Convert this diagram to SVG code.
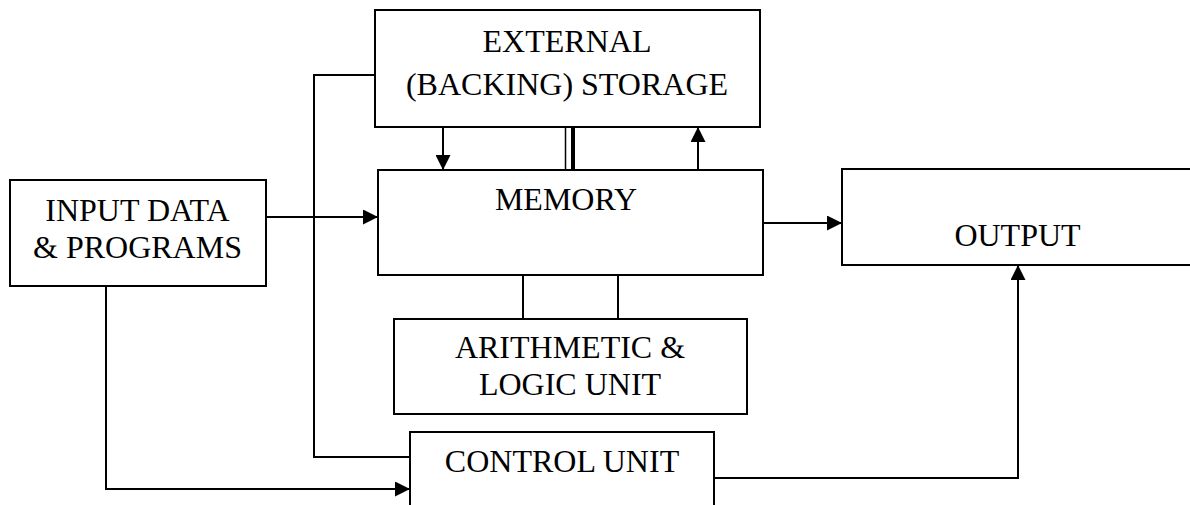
<svg xmlns="http://www.w3.org/2000/svg" width="1190" height="505" viewBox="0 0 1190 505">
<style>
.box{fill:#fff;stroke:#000;stroke-width:2}
.lbl{font-family:"Liberation Serif","Times New Roman",serif;font-size:32px;fill:#000;text-anchor:middle}
.con{fill:none;stroke:#000;stroke-width:2}
</style>
<defs>
<marker id="arr" markerUnits="userSpaceOnUse" markerWidth="15" markerHeight="15" refX="15" refY="7.5" orient="auto">
<path d="M0,0 L15,7.5 L0,15 z" fill="#000"/>
</marker>
</defs>
<rect width="1190" height="505" fill="#fff"/>
<g id="connectors">
<path class="con" d="M443,127 V170" marker-end="url(#arr)"/>
<path class="con" d="M698,170 V127" marker-end="url(#arr)"/>
<line x1="565.5" y1="127" x2="565.5" y2="170" stroke="#000" stroke-width="1.5"/>
<line x1="573" y1="127" x2="573" y2="170" stroke="#000" stroke-width="4"/>
<path class="con" d="M264,217 H378" marker-end="url(#arr)"/>
<path class="con" d="M763,223 H842" marker-end="url(#arr)"/>
<path class="con" d="M378,75 H314 V457 H410"/>
<path class="con" d="M106,286 V489 H410" marker-end="url(#arr)"/>
<path class="con" d="M523,275 V319"/>
<path class="con" d="M618,275 V319"/>
<path class="con" d="M714,478 H1018 V265" marker-end="url(#arr)"/>
</g>
<g id="external-storage">
<rect class="box" x="375" y="10" width="385" height="117"/>
<text class="lbl" x="567" y="52">EXTERNAL</text>
<text class="lbl" x="567" y="95">(BACKING) STORAGE</text>
</g>
<g id="memory">
<rect class="box" x="378" y="170" width="385" height="105"/>
<text class="lbl" x="566" y="210">MEMORY</text>
</g>
<g id="input">
<rect class="box" x="10" y="180" width="256" height="106"/>
<text class="lbl" x="137.5" y="221">INPUT DATA</text>
<text class="lbl" x="137.5" y="258">&amp; PROGRAMS</text>
</g>
<g id="output">
<rect class="box" x="842" y="169" width="400" height="96"/>
<text class="lbl" x="1017.5" y="246">OUTPUT</text>
</g>
<g id="alu">
<rect class="box" x="394" y="319" width="353" height="95"/>
<text class="lbl" x="570" y="358">ARITHMETIC &amp;</text>
<text class="lbl" x="570" y="395">LOGIC UNIT</text>
</g>
<g id="control-unit">
<rect class="box" x="410" y="432" width="304" height="100"/>
<text class="lbl" x="562" y="472">CONTROL UNIT</text>
</g>
</svg>
